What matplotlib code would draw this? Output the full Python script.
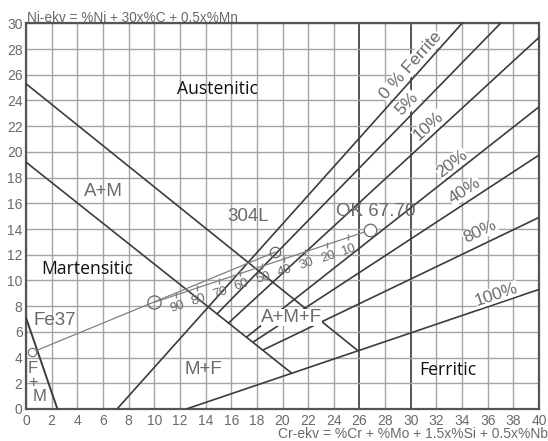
import matplotlib
matplotlib.use("Agg")
import matplotlib.pyplot as plt
import numpy as np

# ---- chart data (Cr-equivalent on x, Ni-equivalent on y) ----
x_ticks = list(range(0, 41, 2))
y_ticks = list(range(0, 31, 2))

# phase boundaries
am_upper_x = [0.0, 25.8]
am_upper_y = [25.3, 4.6]
am_lower_x = [0.0, 20.7]
am_lower_y = [19.2, 2.8]
fm_x = [0.0, 2.45]
fm_y = [7.1, 0.0]

# iso-ferrite lines
ferrite_labels = ["0 % Ferrite", "5%", "10%", "20%", "40%", "80%", "100%"]
ferrite_x0 = [7.1, 14.9, 15.8, 17.2, 17.7, 18.5, 12.5]
ferrite_y0 = [0.0, 7.4, 6.7, 5.6, 5.2, 4.6, 0.0]
ferrite_x1 = [34.0, 37.0, 40.0, 40.0, 40.0, 40.0, 40.0]
ferrite_y1 = [30.0, 30.0, 28.9, 23.5, 19.75, 14.9, 9.3]
ferrite_lab_x = [30.0, 29.7, 31.4, 33.2, 34.2, 35.4, 36.7]
ferrite_lab_y = [26.7, 23.7, 22.0, 19.1, 17.0, 13.8, 8.9]

# materials
fe37 = (0.45, 4.4)
ss304l = (19.4, 12.2)
mix = (10.0, 8.3)
ok6770 = (26.8, 13.9)
dilution_labels = ["90", "80", "70", "60", "50", "40", "30", "20", "10"]

# region names
regions_black = [("Austenitic", 14.9, 24.9), ("Martensitic", 4.8, 10.9), ("Ferritic", 32.9, 3.0)]
regions_gray = [("A+M", 6.0, 16.95), ("304L", 17.3, 15.0), ("OK 67.70", 27.3, 15.4),
                ("Fe37", 2.25, 6.9), ("M+F", 13.85, 3.05), ("A+M+F", 20.7, 7.1)]

GRAY_FONT = ["Liberation Sans Narrow", "Liberation Sans", "DejaVu Sans"]
BLACK_FONT = ["Open Sans", "DejaVu Sans"]
TXT = "#6a6a6a"
LINE = "#3c3c3c"

W, H = 548, 441
fig = plt.figure(figsize=(W / 100, H / 100), dpi=100)
ax = fig.add_axes([26 / W, 1 - 409 / H, (539 - 26) / W, (409 - 23.3) / H])
ax.set_xlim(0, 40)
ax.set_ylim(0, 30)

# grid
for gx in x_ticks:
    dark = gx in (26, 30)
    ax.axvline(gx, color="#555555" if dark else "#a4a4a4", lw=1.4 if dark else 1.0, zorder=1)
for gy in y_ticks:
    ax.axhline(gy, color="#a4a4a4", lw=1.0, zorder=1)

for s in ax.spines.values():
    s.set_color("#555555")
    s.set_linewidth(1.6)

ax.set_xticks(x_ticks)
ax.set_yticks(y_ticks)
ax.tick_params(axis="x", length=0, colors=TXT, labelsize=10, pad=3.5)
ax.tick_params(axis="y", length=0, colors=TXT, labelsize=10, pad=2.5)
for lab in ax.get_xticklabels() + ax.get_yticklabels():
    lab.set_family(GRAY_FONT)
    lab.set_color(TXT)

# boundaries
ax.plot(am_upper_x, am_upper_y, color=LINE, lw=1.2, zorder=3)
ax.plot(am_lower_x, am_lower_y, color=LINE, lw=1.2, zorder=3)
ax.plot(fm_x, fm_y, color=LINE, lw=1.4, zorder=3)

fig.canvas.draw()

def screen_angle(x0, y0, x1, y1):
    p0 = ax.transData.transform((x0, y0))
    p1 = ax.transData.transform((x1, y1))
    return np.degrees(np.arctan2(p1[1] - p0[1], p1[0] - p0[0]))

for lab, x0, y0, x1, y1, lx, ly in zip(ferrite_labels, ferrite_x0, ferrite_y0,
                                        ferrite_x1, ferrite_y1, ferrite_lab_x, ferrite_lab_y):
    ax.plot([x0, x1], [y0, y1], color=LINE, lw=1.2, zorder=3)
    ang = screen_angle(x0, y0, x1, y1)
    ax.text(lx, ly, lab, rotation=ang, rotation_mode="anchor", ha="center", va="center",
            color=TXT, fontsize=12.5, family=GRAY_FONT, zorder=4,
            bbox=dict(facecolor="white", edgecolor="none", pad=0.3))

# dilution lines
DIL = "#808080"
ax.plot([fe37[0], ss304l[0]], [fe37[1], ss304l[1]], color=DIL, lw=0.9, zorder=3)
ax.plot([mix[0], ok6770[0]], [mix[1], ok6770[1]], color=DIL, lw=0.9, zorder=3)
ang_d = screen_angle(mix[0], mix[1], ok6770[0], ok6770[1])
for i, lab in enumerate(dilution_labels):
    f = (i + 1) / 10
    tx = mix[0] + f * (ok6770[0] - mix[0])
    ty = mix[1] + f * (ok6770[1] - mix[1])
    ax.plot([tx], [ty], marker="|", ms=4, color=DIL, zorder=3)
    ax.annotate(lab, (tx, ty), xytext=(1, -8.5), textcoords="offset points",
                ha="center", va="center", rotation=ang_d, fontsize=9.5,
                color=TXT, family=GRAY_FONT, zorder=4)

ax.plot([fe37[0]], [fe37[1]], marker="o", ms=6, mfc="white", mec="#777777", mew=0.9, zorder=5)
ax.plot([mix[0]], [mix[1]], marker="o", ms=9.5, mfc="none", mec="#666666", mew=0.9, zorder=5)
ax.plot([ss304l[0]], [ss304l[1]], marker="o", ms=7.5, mfc="none", mec="#666666", mew=0.9, zorder=5)
ax.plot([ok6770[0]], [ok6770[1]], marker="o", ms=9, mfc="white", mec="#666666", mew=0.9, zorder=5)

# region names
for lab, x, y in regions_black:
    ax.text(x, y, lab, ha="center", va="center", fontsize=12.7, color="#111111",
            family=BLACK_FONT, zorder=6)
for lab, x, y in regions_gray:
    ax.text(x, y, lab, ha="center", va="center", fontsize=13.5, color=TXT,
            family=GRAY_FONT, zorder=6,
            bbox=dict(facecolor="white", edgecolor="none", pad=0.2) if lab in ("A+M+F",) else None)
for lab, y in (("F", 3.15), ("+", 2.1), ("M", 0.95)):
    ax.text(0.55 if lab != "M" else 1.05, y, lab, ha="center", va="center", fontsize=12,
            color=TXT, family=GRAY_FONT, zorder=6)

# axis titles
fig.text(27 / W, 1 - 22 / H, "Ni-ekv = %Ni + 30x%C + 0.5x%Mn", ha="left", va="baseline",
         fontsize=9.8, color=TXT, family=GRAY_FONT)
fig.text(548 / W, 1 - 434 / H, "Cr-ekv = %Cr + %Mo + 1.5x%Si + 0.5x%Nb", ha="right",
         va="center", fontsize=10, color=TXT, family=GRAY_FONT)

fig.savefig("out.png", dpi=100)
